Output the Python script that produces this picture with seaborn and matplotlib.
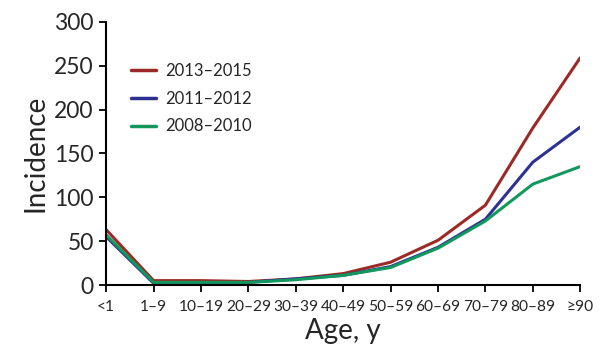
import matplotlib
matplotlib.use("Agg")
import matplotlib.pyplot as plt
import seaborn as sns
import pandas as pd

# age groups and incidence per period
ages = ["<1", "1–9", "10–19", "20–29", "30–39", "40–49",
        "50–59", "60–69", "70–79", "80–89", "≥90"]
inc_2013_2015 = [63, 5, 5, 4, 7, 13, 26, 51, 91, 179, 259]
inc_2011_2012 = [55, 2, 2, 3, 7, 11, 21, 43, 75, 140, 180]
inc_2008_2010 = [57, 3, 3, 3, 6, 11, 20, 42, 73, 115, 135]

periods = ["2013–2015", "2011–2012", "2008–2010"]
colors = ["#9b2a26", "#2e3192", "#12985c"]
yticks = [0, 50, 100, 150, 200, 250, 300]

rows = []
for period, vals in zip(periods, [inc_2013_2015, inc_2011_2012, inc_2008_2010]):
    for i, (a, v) in enumerate(zip(ages, vals)):
        rows.append({"pos": i, "age": a, "period": period, "incidence": v})
df = pd.DataFrame(rows)

sns.set_style("ticks")
plt.rcParams["font.family"] = ["Lato", "DejaVu Sans"]

fig = plt.figure(figsize=(6, 3.64), dpi=100)
ax = fig.add_axes([0.177, 0.217, 0.79, 0.723])

sns.lineplot(data=df, x="pos", y="incidence", hue="period", hue_order=periods,
             palette=colors, linewidth=2.2, ax=ax, sort=False)

ax.set_xlim(0, len(ages) - 1)
ax.set_ylim(0, 300)
ax.set_xticks(range(len(ages)))
ax.set_xticklabels(ages, fontsize=11.2)
ax.set_yticks(yticks)
ax.set_yticklabels([str(t) for t in yticks], fontsize=16.5)
ax.tick_params(axis="both", direction="out", length=5, width=1.3, color="black")
ax.tick_params(axis="x", pad=6)
ax.tick_params(axis="y", pad=4)
for s in ["left", "bottom"]:
    ax.spines[s].set_linewidth(1.5)
    ax.spines[s].set_color("black")
sns.despine(ax=ax)

ax.set_xlabel("Age, y", fontsize=20, labelpad=3)
ax.set_ylabel("Incidence", fontsize=20, labelpad=4)

leg = ax.legend(loc="upper left", bbox_to_anchor=(0.02, 0.9), frameon=False,
                fontsize=12, handlelength=1.5, handletextpad=0.55,
                labelspacing=0.7)
for line in leg.get_lines():
    line.set_linewidth(2.5)

fig.savefig("out.png", dpi=100)
